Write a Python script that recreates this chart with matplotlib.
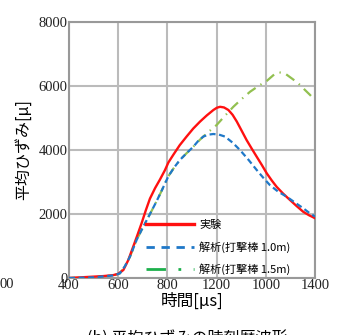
import numpy as np
import matplotlib.pyplot as plt
from matplotlib.lines import Line2D

plt.rcParams['font.family'] = ['Noto Sans CJK JP', 'DejaVu Sans']

# 実験
t_exp = [400, 470, 540, 580, 600, 621, 641, 661, 678, 695, 712, 729, 750, 770, 790, 804, 824, 850, 878, 905, 933, 960, 987, 1001, 1014, 1030, 1048, 1065, 1082, 1100, 1122, 1143, 1163, 1184, 1204, 1224, 1244, 1270, 1298, 1325, 1352, 1376, 1400]
e_exp = [0, 30, 60, 90, 130, 250, 560, 980, 1340, 1710, 2110, 2480, 2810, 3080, 3370, 3610, 3850, 4150, 4420, 4670, 4890, 5080, 5250, 5320, 5350, 5330, 5250, 5100, 4890, 4630, 4310, 4040, 3790, 3530, 3270, 3050, 2850, 2640, 2440, 2250, 2070, 1960, 1870]

# 解析 (打撃棒1.0m)
t_10 = [400, 500, 580, 607, 628, 648, 675, 695, 716, 736, 756, 775, 790, 804, 828, 851, 878, 905, 925, 946, 967, 987, 1010, 1034, 1065, 1095, 1130, 1163, 1190, 1217, 1250, 1285, 1320, 1352, 1376, 1400]
e_10 = [0, 20, 80, 145, 380, 670, 1190, 1500, 1810, 2100, 2400, 2700, 2950, 3180, 3460, 3690, 3900, 4100, 4280, 4420, 4480, 4500, 4480, 4420, 4230, 4000, 3690, 3375, 3130, 2900, 2700, 2540, 2350, 2180, 2040, 1920]

# 解析 (打撃棒1.5m)
t_15 = [400, 500, 580, 607, 628, 648, 675, 695, 716, 736, 756, 775, 790, 804, 828, 851, 878, 905, 932, 960, 1000, 1034, 1068, 1100, 1136, 1170, 1204, 1237, 1260, 1280, 1305, 1330, 1352, 1380, 1400]
e_15 = [0, 20, 80, 145, 380, 670, 1190, 1500, 1810, 2100, 2400, 2700, 2950, 3180, 3460, 3690, 3900, 4100, 4320, 4520, 4780, 5070, 5350, 5580, 5820, 6000, 6160, 6380, 6420, 6380, 6240, 6100, 5930, 5720, 5550]

xticks = [400, 600, 800, 1000, 1200, 1400]
xticklabels = ['400', '600', '800', '1200', '1000', '1400']
yticks = [0, 2000, 4000, 6000, 8000]

red = '#ff1010'
blue = '#1f78c8'
olive = '#92c050'
green = '#1db04c'

fig = plt.figure(figsize=(3.43, 3.35), dpi=100)
ax = fig.add_axes([69/343, 1 - 278/335, 246/343, 256/335])

ax.plot(t_exp, e_exp, color=red, lw=1.7, zorder=3)
ax.plot(t_10, e_10, color=blue, lw=1.6, dashes=(2.7, 1.6), zorder=4)
ax.plot(t_15, e_15, color=olive, lw=1.6, dashes=(4.5, 2.6, 0.6, 2.6), zorder=2)

ax.set_xlim(400, 1400)
ax.set_ylim(0, 8000)
ax.set_xticks(xticks)
ax.set_xticklabels(xticklabels)
ax.set_yticks(yticks)
ax.grid(color='#bbbbbb', lw=1.5, zorder=0)
ax.set_axisbelow(True)
for s in ax.spines.values():
    s.set_color('#999999')
    s.set_linewidth(1.5)
ax.tick_params(length=0, pad=1, labelsize=10.5)
for lab in ax.get_xticklabels() + ax.get_yticklabels():
    lab.set_family('Liberation Serif')
    lab.set_color('#222222')

ax.set_xlabel('時間[μs]', fontsize=12, labelpad=0)
ax.set_ylabel('平均ひずみ[μ]', fontsize=11.5, labelpad=5)

handles = [
    Line2D([], [], color=red, lw=2.4),
    Line2D([], [], color=blue, lw=2.0, dashes=(3, 2.4)),
    Line2D([], [], color=green, lw=2.0, dashes=(7, 4.5, 1, 4.5)),
]
labels = ['実験', '解析(打撃棒 1.0m)', '解析(打撃棒 1.5m)']
leg = ax.legend(handles, labels, loc='lower left', bbox_to_anchor=(0.295, -0.005),
                frameon=False, fontsize=8, handlelength=4.3, handletextpad=0.5,
                labelspacing=0.95, borderaxespad=0)
leg.set_zorder(6)

fig.text(0.0, 1 - 284/335, '00', fontsize=10.5, family='Liberation Serif', ha='left', va='center', color='#222222')
fig.text(0.545, 1 - 338/335, '(b) 平均ひずみの時刻歴波形', fontsize=11.5, ha='center', va='center')

fig.savefig('out.png', dpi=100)
